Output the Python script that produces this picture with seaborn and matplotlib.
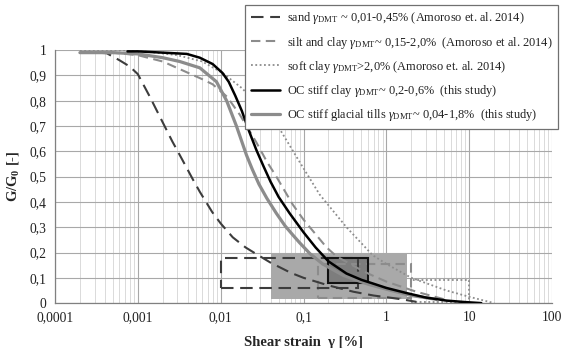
import numpy as np
import pandas as pd
import matplotlib
matplotlib.use("Agg")
import matplotlib.pyplot as plt
import seaborn as sns
from matplotlib.patches import Rectangle
from matplotlib.ticker import FixedLocator, NullFormatter, MultipleLocator

# ---------------- data ----------------
sand_x = [0.0002, 0.0003, 0.00042, 0.0006, 0.0008, 0.001, 0.0014, 0.0017, 0.0026, 0.0034, 0.0046,
          0.0056, 0.0079, 0.01, 0.014, 0.02, 0.026, 0.04, 0.07, 0.1, 0.2, 0.4, 0.7, 1.2, 1.74, 2.3]
sand_y = [0.99, 0.99, 0.988, 0.96, 0.935, 0.905, 0.815, 0.76, 0.64, 0.57, 0.49,
          0.44, 0.36, 0.315, 0.26, 0.22, 0.197, 0.16, 0.12, 0.10, 0.07, 0.045, 0.03, 0.02, 0.012, 0.005]

silt_x = [0.0002, 0.0005, 0.001, 0.002, 0.0032, 0.006, 0.008, 0.012, 0.017, 0.027, 0.036, 0.047,
          0.074, 0.1, 0.19, 0.25, 0.44, 0.62, 1.0, 2.3, 5.0]
silt_y = [0.99, 0.99, 0.98, 0.955, 0.925, 0.885, 0.865, 0.815, 0.745, 0.635, 0.56, 0.50,
          0.39, 0.33, 0.22, 0.185, 0.14, 0.115, 0.085, 0.045, 0.015]

soft_x = [0.0002, 0.0005, 0.001, 0.003, 0.006, 0.0105, 0.018, 0.047, 0.089, 0.156, 0.33, 0.68,
          1.0, 2.0, 5.3, 10.0, 20.0]
soft_y = [1.0, 1.0, 0.998, 0.98, 0.955, 0.91, 0.85, 0.71, 0.56, 0.43, 0.30, 0.19,
          0.155, 0.10, 0.05, 0.025, 0.0]

occlay_x = [0.00075, 0.001, 0.002, 0.0039, 0.0056, 0.008, 0.0105, 0.0125, 0.015, 0.018, 0.022,
            0.027, 0.033, 0.04, 0.05, 0.068, 0.1, 0.14, 0.2, 0.33, 0.5, 0.68, 1.0, 1.74, 3.0,
            5.3, 9.0, 14.0]
occlay_y = [0.995, 0.995, 0.99, 0.985, 0.97, 0.945, 0.91, 0.875, 0.82, 0.76, 0.68,
            0.605, 0.54, 0.48, 0.42, 0.355, 0.28, 0.22, 0.165, 0.117, 0.092, 0.078, 0.06, 0.04, 0.022,
            0.01, 0.004, 0.0]

tills_x = [0.0002, 0.0005, 0.001, 0.002, 0.0032, 0.0056, 0.0089, 0.0118, 0.0155, 0.0205, 0.024,
           0.029, 0.036, 0.047, 0.06, 0.074, 0.089, 0.12, 0.17, 0.3, 0.6, 1.0, 2.0, 4.0]
tills_y = [0.99, 0.99, 0.985, 0.97, 0.955, 0.93, 0.875, 0.80, 0.70, 0.585, 0.53,
           0.47, 0.415, 0.355, 0.305, 0.27, 0.24, 0.195, 0.155, 0.11, 0.075, 0.055, 0.03, 0.015]

# rectangles: (strain min, strain max, G/G0 min, G/G0 max)
rect_sand = [0.01, 0.45, 0.06, 0.18]
rect_silt = [0.15, 2.0, 0.02, 0.155]
rect_soft = [2.0, 10.0, 0.005, 0.09]
rect_occlay = [0.2, 0.6, 0.08, 0.18]
rect_tills = [0.04, 1.8, 0.015, 0.2]

labels = [
    r"sand $\gamma_{\mathrm{DMT}}$ ~ 0,01-0,45% (Amoroso et. al. 2014)",
    r"silt and clay $\gamma_{\mathrm{DMT}}$~ 0,15-2,0%  (Amoroso et al. 2014)",
    r"soft clay $\gamma_{\mathrm{DMT}}$>2,0% (Amoroso et. al. 2014)",
    r"OC stiff clay $\gamma_{\mathrm{DMT}}$~ 0,2-0,6%  (this study)",
    r"OC stiff glacial tills $\gamma_{\mathrm{DMT}}$~ 0,04-1,8%  (this study)",
]
xticks = [0.0001, 0.001, 0.01, 0.1, 1, 10, 100]
xticklabels = ["0,0001", "0,001", "0,01", "0,1", "1", "10", "100"]
yticks = [0, 0.1, 0.2, 0.3, 0.4, 0.5, 0.6, 0.7, 0.8, 0.9, 1.0]
yticklabels = ["0", "0,1", "0,2", "0,3", "0,4", "0,5", "0,6", "0,7", "0,8", "0,9", "1"]

# ---------------- style ----------------
sns.set_theme(style="white")
plt.rcParams["font.family"] = ["Liberation Serif", "DejaVu Serif"]
plt.rcParams["mathtext.fontset"] = "custom"
plt.rcParams["mathtext.rm"] = "Liberation Serif"
plt.rcParams["mathtext.it"] = "Liberation Serif:italic"
plt.rcParams["mathtext.bf"] = "Liberation Serif:bold"

fig, ax = plt.subplots(figsize=(5.61, 3.48), dpi=100)
fig.subplots_adjust(left=0.098, right=0.984, top=0.856, bottom=0.129)

ax.set_xscale("log")
ax.set_xlim(0.0001, 100)
ax.set_ylim(0, 1)

# grid
minor_pos = [m * 10.0 ** e for e in range(-4, 2) for m in range(2, 10)]
ax.xaxis.set_minor_locator(FixedLocator(minor_pos))
ax.xaxis.set_minor_formatter(NullFormatter())
ax.set_xticks(xticks)
ax.set_xticklabels(xticklabels)
ax.set_yticks(yticks)
ax.set_yticklabels(yticklabels)
ax.yaxis.set_minor_locator(MultipleLocator(0.02))
ax.grid(which="major", axis="both", color="#a8a8a8", lw=0.8)
ax.grid(which="minor", axis="x", color="#dadada", lw=0.7)
ax.set_axisbelow(True)
for s in ["top", "right"]:
    ax.spines[s].set_visible(False)
for s in ["left", "bottom"]:
    ax.spines[s].set_color("#808080")
    ax.spines[s].set_linewidth(0.9)
ax.tick_params(which="major", direction="inout", length=6, width=0.8, color="#808080",
               labelsize=9.8, pad=3, labelcolor="#222222")
ax.tick_params(which="minor", direction="inout", length=3.5, width=0.6, color="#808080")

# rectangles
def rect(r, **kw):
    ax.add_patch(Rectangle((r[0], r[2]), r[1] - r[0], r[3] - r[2], **kw))

rect(rect_tills, facecolor="#a9a9a9", edgecolor="none", zorder=1.5)
rect(rect_occlay, facecolor="#7d7d7d", edgecolor="none", zorder=1.6)
rect(rect_sand, facecolor="none", edgecolor="#3c3c3c", lw=1.5, linestyle=(0, (6, 3.2)), zorder=2.2)
rect(rect_silt, facecolor="none", edgecolor="#8c8c8c", lw=1.5, linestyle=(0, (4.5, 2.6)), zorder=2.1)
rect(rect_soft, facecolor="none", edgecolor="#8c8c8c", lw=1.3, linestyle=(0, (1, 1.4)), zorder=2.1)
rect(rect_occlay, facecolor="none", edgecolor="#111111", lw=1.5, zorder=2.3)

# curves
sns.lineplot(x=sand_x, y=sand_y, ax=ax, color="#3c3c3c", lw=1.5, linestyle=(0, (6, 3.2)), zorder=3)
sns.lineplot(x=silt_x, y=silt_y, ax=ax, color="#8c8c8c", lw=1.5, linestyle=(0, (4.5, 2.6)), zorder=3)
sns.lineplot(x=soft_x, y=soft_y, ax=ax, color="#8c8c8c", lw=1.3, linestyle=(0, (1, 1.4)), zorder=3)
sns.lineplot(x=tills_x, y=tills_y, ax=ax, color="#8c8c8c", lw=2.3, zorder=3.1)
sns.lineplot(x=occlay_x, y=occlay_y, ax=ax, color="#000000", lw=1.8, zorder=3.2)

handles = ax.lines[-5:]
order = [0, 1, 2, 4, 3]
handles = [handles[i] for i in order]
leg = ax.legend(handles, labels, loc="upper right", bbox_to_anchor=(0.995, 0.986),
                bbox_transform=fig.transFigure, frameon=True, fancybox=False,
                edgecolor="#707070", framealpha=1, fontsize=8.9, handlelength=2.4,
                handletextpad=0.55, labelspacing=0.66, borderpad=0.45, borderaxespad=0)
leg.get_frame().set_linewidth(0.9)
leg.set_zorder(10)
for t in leg.get_texts():
    t.set_color("#222222")

ax.set_xlabel(r"Shear strain  γ [%]", fontsize=10.5, fontweight="bold", labelpad=8)
ax.set_ylabel(r"G/G$_\mathbf{0}$ [-]", fontsize=10.5, fontweight="bold", labelpad=6)

fig.savefig("out.png", dpi=100)
